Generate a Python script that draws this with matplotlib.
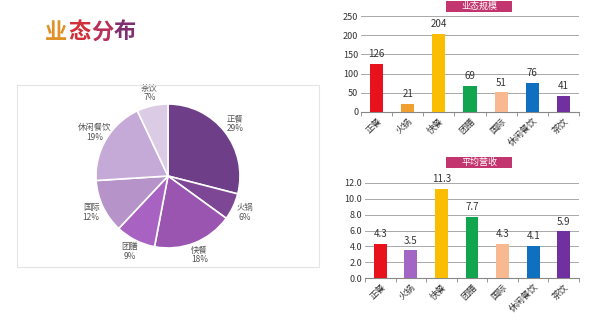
import matplotlib
matplotlib.use("Agg")
import matplotlib.pyplot as plt
from matplotlib.patches import Rectangle

plt.rcParams['font.family'] = ['Noto Sans CJK SC', 'DejaVu Sans']

# data
cats = ['正餐', '火锅', '快餐', '团膳', '国际', '休闲餐饮', '茶饮']
share = [29, 6, 18, 9, 12, 19, 7]
scale = [126, 21, 204, 69, 51, 76, 41]
revenue = [4.3, 3.5, 11.3, 7.7, 4.3, 4.1, 5.9]

pie_colors = ['#6e3f88', '#7d4796', '#9a55b0', '#a862c2', '#b693c9', '#c5a9d6', '#dccbe5']
scale_colors = ['#e8121c', '#f0a030', '#fbbd00', '#12a550', '#f8b890', '#1070c0', '#7030a0']
rev_colors = ['#e8121c', '#a466c4', '#fbbd00', '#12a550', '#f8b890', '#1070c0', '#7030a0']

W, H = 600, 336
fig = plt.figure(figsize=(6, 3.36), dpi=100)
fig.patch.set_facecolor('white')


def box(x0, y0, x1, y1):
    # pixel box -> figure fraction
    return [x0 / W, 1 - y1 / H, (x1 - x0) / W, (y1 - y0) / H]


# title with gradient-ish letters
title_cols = ['#e0922a', '#d0303a', '#b8305a', '#80306e']
tx = 45
for ch, c in zip('业态分布', title_cols):
    fig.text(tx / W, 1 - 32 / H, ch, color=c, fontsize=16, fontweight='bold', va='center', ha='left')
    tx += 23

# pie frame
fig.patches.append(Rectangle((17 / W, 1 - 267 / H), 302 / W, 182 / H, transform=fig.transFigure,
                             fill=False, edgecolor='#e4e4e4', linewidth=0.8))

axp = fig.add_axes(box(96, 104, 240, 248))
labels = [f'{c}\n{s}%' for c, s in zip(cats, share)]
wedges, texts = axp.pie(share, colors=pie_colors, startangle=90, counterclock=False,
                        labels=labels, labeldistance=1.18,
                        wedgeprops=dict(edgecolor='white', linewidth=1.2),
                        textprops=dict(fontsize=6, color='#555555', linespacing=1.1))
for t in texts:
    t.set_horizontalalignment('center')
axp.set_xlim(-1, 1)
axp.set_ylim(-1, 1)
axp.set_aspect('equal')


def bar_chart(rect, vals, cols, ymax, step, fmt, title, ty):
    ax = fig.add_axes(rect)
    x = range(len(cats))
    ax.bar(x, vals, color=cols, width=0.42, zorder=3)
    ax.set_ylim(0, ymax)
    ax.set_xlim(-0.5, len(cats) - 0.5)
    ticks = [i * step for i in range(int(round(ymax / step)) + 1)]
    ax.set_yticks(ticks)
    ax.set_yticklabels([fmt.format(t) for t in ticks], fontsize=6.5, color='#333333')
    ax.set_xticks(list(x))
    ax.set_xticklabels(cats, rotation=45, ha='right', rotation_mode='anchor',
                       fontsize=6.5, color='#333333')
    ax.tick_params(axis='x', length=0, pad=3)
    ax.tick_params(axis='y', length=0, pad=2)
    ax.set_xticks([i + 0.5 for i in range(-1, len(cats))], minor=True)
    ax.tick_params(axis='x', which='minor', length=3, color='#888888')
    ax.grid(axis='y', color='#9a9a9a', linewidth=0.6, zorder=0)
    for s in ['top', 'right', 'left']:
        ax.spines[s].set_visible(False)
    ax.spines['bottom'].set_color('#888888')
    for i, v in enumerate(vals):
        ax.text(i, v + ymax * 0.05, fmt.format(v) if isinstance(v, float) else str(v),
                ha='center', va='bottom', fontsize=7, color='#333333')
    # title tag
    fig.patches.append(Rectangle((446 / W, 1 - (ty + 11) / H), 66 / W, 11 / H,
                                 transform=fig.transFigure, facecolor='#c2356e',
                                 edgecolor='none'))
    fig.text(479 / W, 1 - (ty + 5.5) / H, title, color='white', fontsize=6.5,
             ha='center', va='center')
    return ax


bar_chart(box(361, 16, 579, 112), scale, scale_colors, 250, 50, '{:d}', '业态规模', 1)
bar_chart(box(365, 183, 579, 278), revenue, rev_colors, 12.0, 2.0, '{:.1f}', '平均营收', 157)

fig.savefig('out.png', dpi=100)
